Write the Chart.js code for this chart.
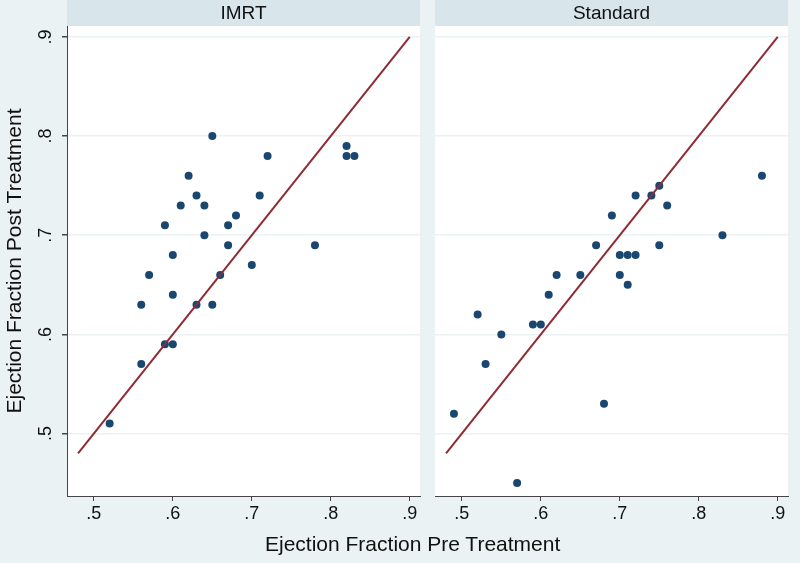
<!DOCTYPE html>
<html>
<head>
<meta charset="utf-8">
<script src="https://cdn.jsdelivr.net/npm/chart.js@4/dist/chart.umd.min.js"></script>
<style>
  html, body { margin: 0; padding: 0; background: #EAF2F3; }
  #wrap { position: relative; width: 800px; height: 563px; overflow: hidden; }
  canvas { position: absolute; top: 0; }
  #xtitle {
    position: absolute; left: 265px; top: 532px; height: 24px; line-height: 24px;
    font: 21px "Liberation Sans", Arial, sans-serif; color: #111; white-space: nowrap;
  }
</style>
</head>
<body>
<div id="wrap">
  <canvas id="c-imrt" width="428" height="563" style="left:0"></canvas>
  <canvas id="c-std" width="372" height="563" style="left:428px"></canvas>
  <div id="xtitle">Ejection Fraction Pre Treatment</div>
</div>
<script>
// ---- Data ----
const panelNames = ['IMRT', 'Standard'];

const imrtPre  = [0.65, 0.82, 0.82, 0.83, 0.72, 0.62, 0.63, 0.71, 0.61, 0.64, 0.68, 0.59, 0.67, 0.64,
                  0.67, 0.78, 0.60, 0.57, 0.66, 0.70, 0.60, 0.56, 0.63, 0.65, 0.59, 0.60, 0.56, 0.52];
const imrtPost = [0.80, 0.79, 0.78, 0.78, 0.78, 0.76, 0.74, 0.74, 0.73, 0.73, 0.72, 0.71, 0.71, 0.70,
                  0.69, 0.69, 0.68, 0.66, 0.66, 0.67, 0.64, 0.63, 0.63, 0.63, 0.59, 0.59, 0.57, 0.51];

const stdPre  = [0.88, 0.75, 0.72, 0.74, 0.76, 0.69, 0.83, 0.67, 0.75, 0.70, 0.71, 0.72, 0.62,
                 0.65, 0.70, 0.71, 0.61, 0.52, 0.59, 0.60, 0.55, 0.53, 0.68, 0.49, 0.57];
const stdPost = [0.76, 0.75, 0.74, 0.74, 0.73, 0.72, 0.70, 0.69, 0.69, 0.68, 0.68, 0.68, 0.66,
                 0.66, 0.66, 0.65, 0.64, 0.62, 0.61, 0.61, 0.60, 0.57, 0.53, 0.52, 0.45];

// line of equality (pre = post)
const refLineX = [0.48, 0.90];
const refLineY = [0.48, 0.90];

const xTicks = [0.5, 0.6, 0.7, 0.8, 0.9];
const yTicks = [0.5, 0.6, 0.7, 0.8, 0.9];

// ---- Styling ----
const FONT = '"Liberation Sans", Arial, sans-serif';
const MARKER = '#1A476F';
const LINE = '#8E2B33';
const GRID = '#EAF2F3';
const STRIP = '#D8E5EB';

function fmt(v) {
    return v.toFixed(1).replace(/^0/, '');
}

function toPoints(xs, ys) {
    return xs.map(function (x, i) { return { x: x, y: ys[i] }; });
}

// strip label above each panel, plus rotated y tick labels on the left panel
const panelDeco = {
    id: 'panelDeco',
    beforeDraw: function (chart, args, opts) {
        const ctx = chart.ctx;
        const a = chart.chartArea;
        ctx.save();
        ctx.fillStyle = '#FFFFFF';
        ctx.fillRect(a.left, a.top, a.right - a.left, a.bottom - a.top);
        ctx.fillStyle = STRIP;
        ctx.fillRect(a.left, 0, a.right - a.left, a.top);
        ctx.fillStyle = '#111';
        ctx.font = '19px ' + FONT;
        ctx.textAlign = 'center';
        ctx.textBaseline = 'middle';
        ctx.fillText(opts.title, (a.left + a.right) / 2, a.top / 2 + 1);
        ctx.restore();
    },
    afterDraw: function (chart, args, opts) {
        if (!opts.yLabels) {
            return;
        }
        const ctx = chart.ctx;
        const ys = chart.scales.y;
        ctx.save();
        ctx.fillStyle = '#111';
        ctx.font = '18px ' + FONT;
        ctx.textAlign = 'center';
        ctx.textBaseline = 'middle';
        ys.ticks.forEach(function (t) {
            const py = ys.getPixelForValue(t.value);
            ctx.save();
            ctx.translate(46, py);
            ctx.rotate(-Math.PI / 2);
            ctx.fillText(fmt(t.value), 0, 0);
            ctx.restore();
        });
        ctx.restore();
    }
};

function makePanel(canvasId, title, xs, ys, isLeft) {
    const el = document.getElementById(canvasId);
    return new Chart(el.getContext('2d'), {
        type: 'scatter',
        data: {
            datasets: [{
                data: toPoints(xs, ys),
                backgroundColor: MARKER,
                borderColor: MARKER,
                pointRadius: 4,
                borderWidth: 0,
                order: 2
            }, {
                type: 'line',
                data: toPoints(refLineX, refLineY),
                borderColor: LINE,
                borderWidth: 2,
                pointRadius: 0,
                fill: false,
                order: 1
            }]
        },
        options: {
            responsive: false,
            animation: false,
            layout: {
                padding: isLeft ? { left: 0, right: 8, top: 26, bottom: 0 }
                                : { left: 7, right: 12, top: 26, bottom: 0 }
            },
            plugins: {
                legend: { display: false },
                tooltip: { enabled: false },
                panelDeco: { title: title, yLabels: isLeft }
            },
            scales: {
                x: {
                    type: 'linear',
                    min: 0.466,
                    max: 0.913,
                    afterBuildTicks: function (s) { s.ticks = xTicks.map(function (v) { return { value: v }; }); },
                    afterFit: function (s) { s.height = 67; },
                    border: { display: true, color: '#444', width: 1 },
                    grid: { drawOnChartArea: false, drawTicks: true, tickLength: 5, tickColor: '#444' },
                    ticks: {
                        color: '#111',
                        font: { family: FONT, size: 18 },
                        padding: 2,
                        maxRotation: 0,
                        autoSkip: false,
                        callback: function (v) { return fmt(v); }
                    }
                },
                y: {
                    type: 'linear',
                    min: 0.437,
                    max: 0.911,
                    afterBuildTicks: function (s) { s.ticks = yTicks.map(function (v) { return { value: v }; }); },
                    afterFit: function (s) { s.width = isLeft ? 67 : 0; },
                    border: { display: isLeft, color: '#444', width: 1 },
                    grid: {
                        color: GRID,
                        lineWidth: 1.5,
                        drawTicks: isLeft,
                        tickLength: 5,
                        tickColor: '#444'
                    },
                    ticks: { display: false },
                    title: {
                        display: isLeft,
                        text: 'Ejection Fraction Post Treatment',
                        color: '#111',
                        font: { family: FONT, size: 21 },
                        padding: { top: 3, bottom: 0 }
                    }
                }
            }
        },
        plugins: [panelDeco]
    });
}

makePanel('c-imrt', panelNames[0], imrtPre, imrtPost, true);
makePanel('c-std', panelNames[1], stdPre, stdPost, false);
</script>
</body>
</html>
